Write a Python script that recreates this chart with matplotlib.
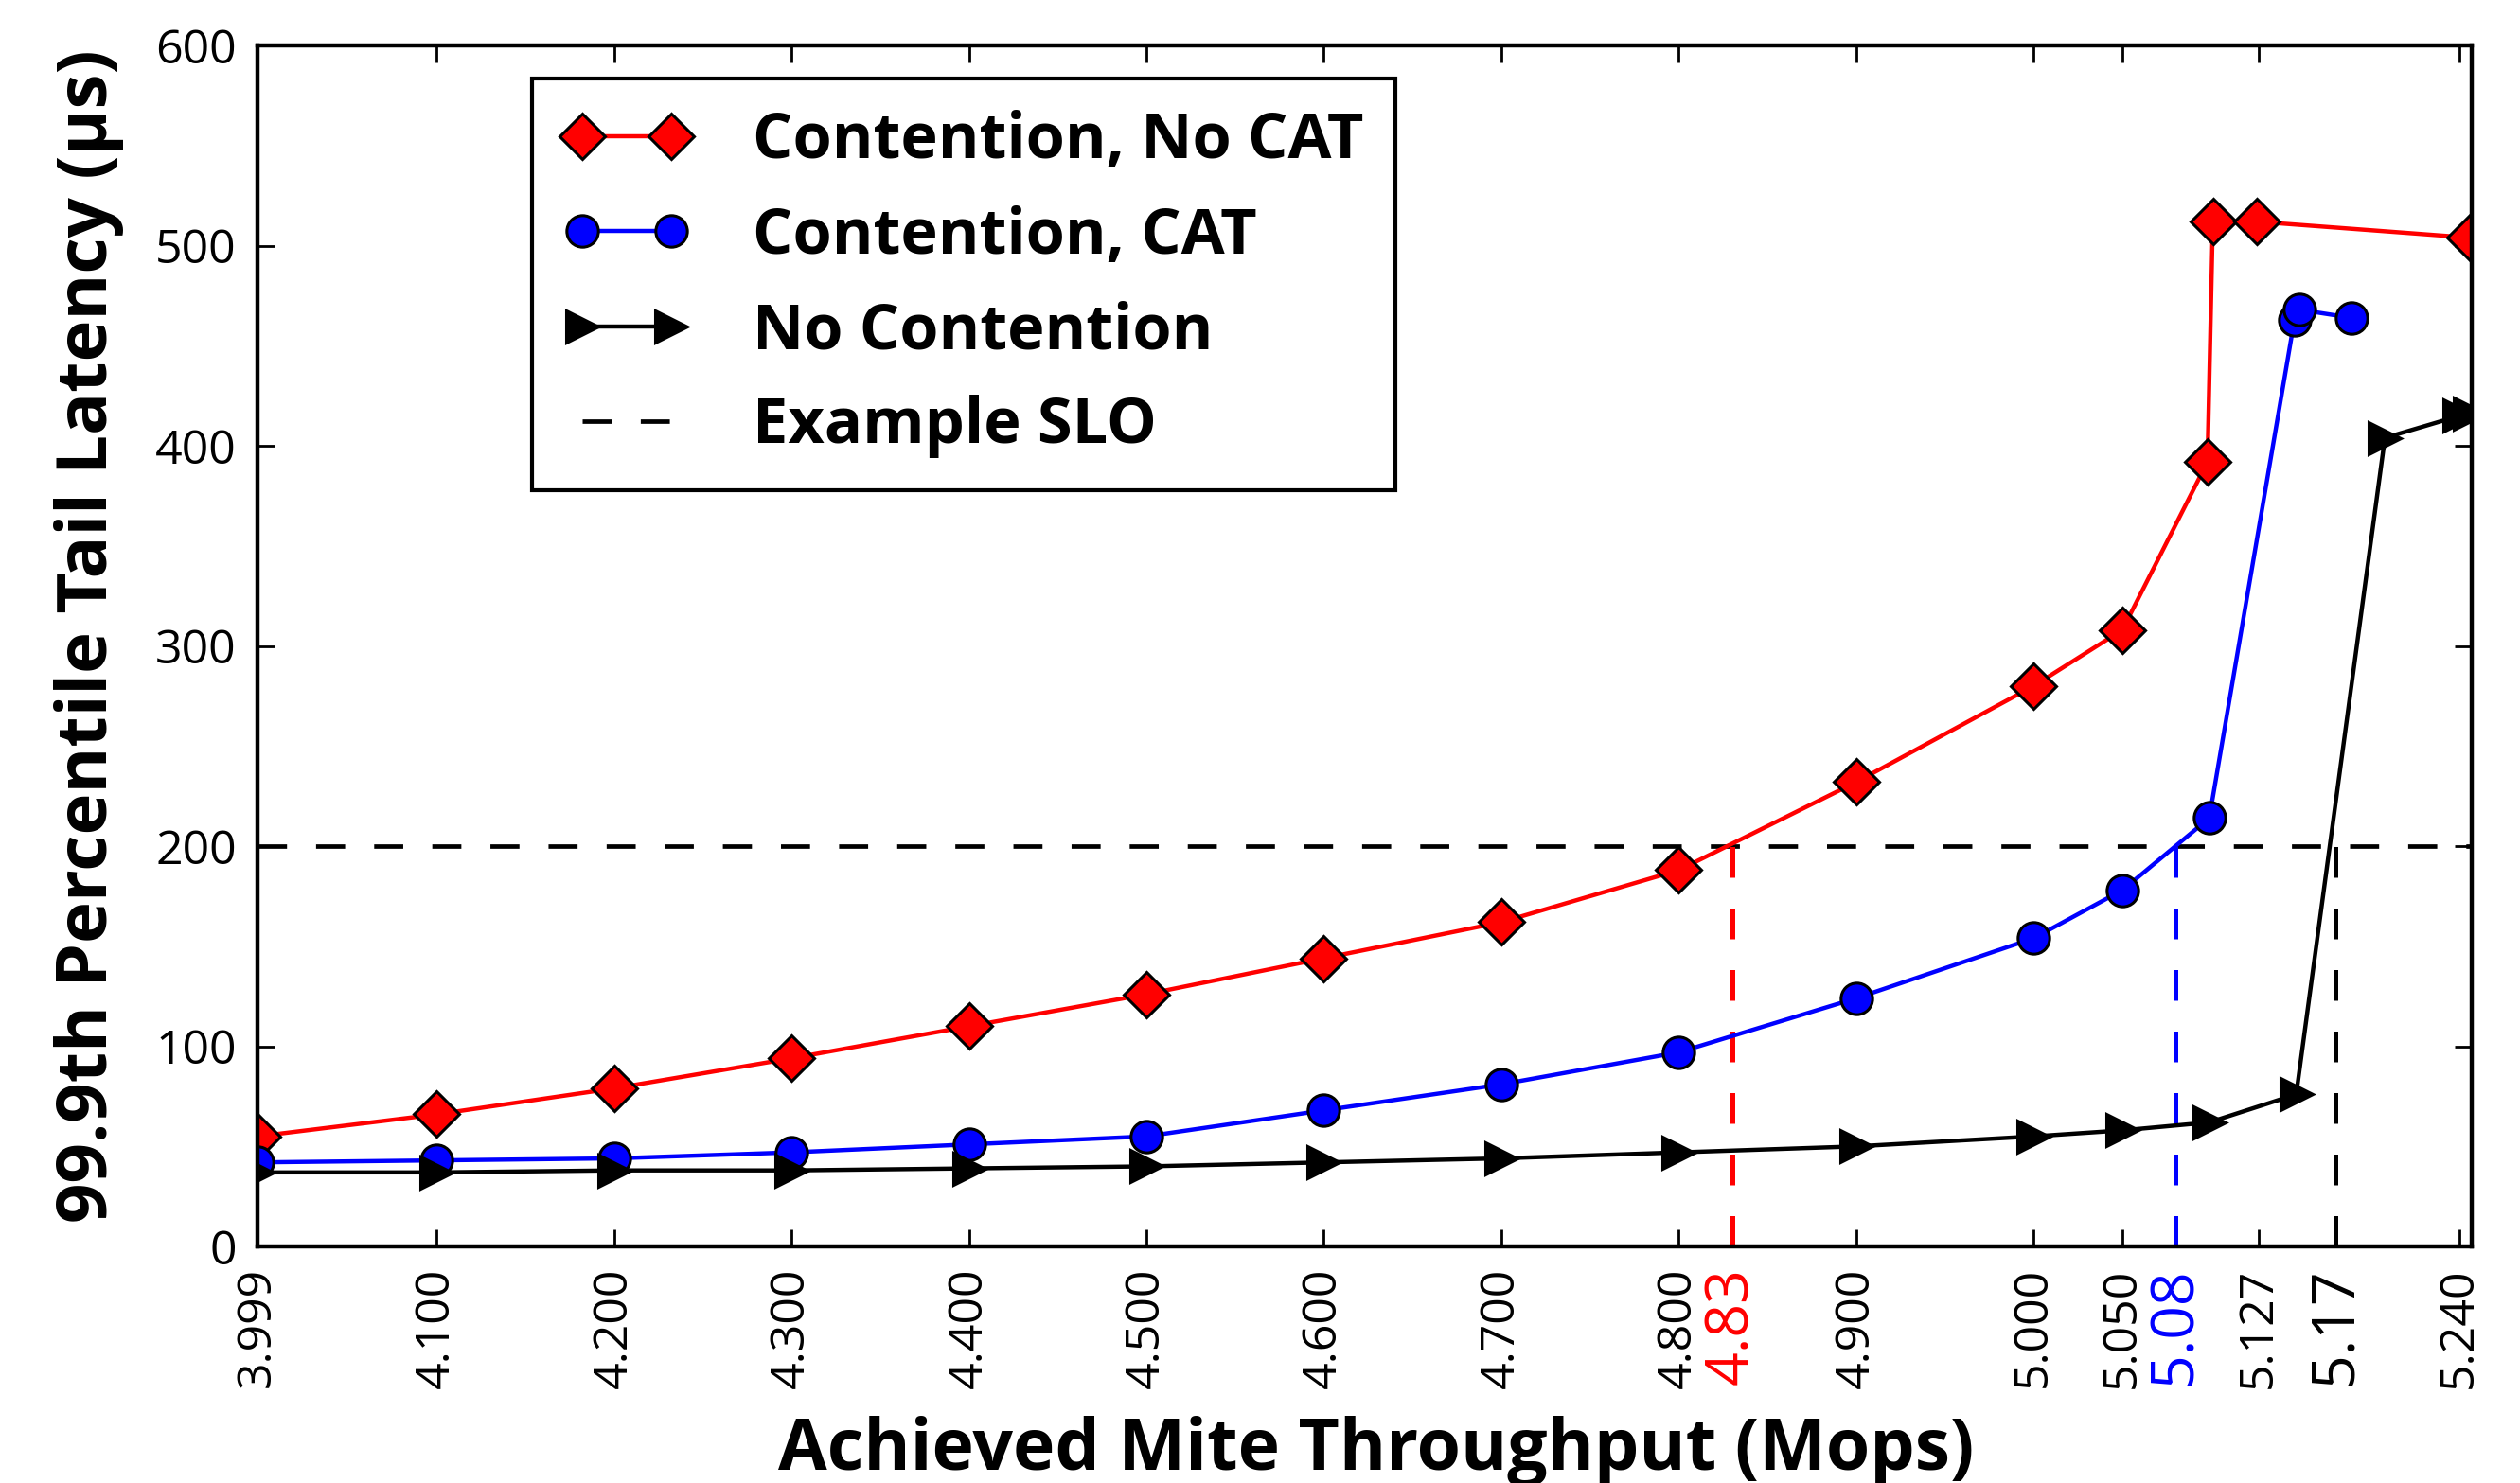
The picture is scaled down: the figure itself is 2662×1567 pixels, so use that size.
import matplotlib
matplotlib.use("Agg")
import matplotlib.pyplot as plt

# throughput (Mops) and 99.9th percentile latency (us)
x_nocat = [3.999, 4.1, 4.2, 4.3, 4.4, 4.5, 4.6, 4.7, 4.8, 4.9, 5.0, 5.05, 5.098, 5.101, 5.126, 5.246]
y_nocat = [55, 66, 79, 94, 110, 126, 144, 162, 188, 232, 280, 308, 392, 512, 512, 504]

x_cat = [3.999, 4.1, 4.2, 4.3, 4.4, 4.5, 4.6, 4.7, 4.8, 4.9, 5.0, 5.05, 5.099, 5.147, 5.150, 5.179]
y_cat = [42, 43, 44, 47, 51, 55, 68, 81, 97, 124, 154, 178, 214, 463, 468, 464]

x_nocont = [3.999, 4.1, 4.2, 4.3, 4.4, 4.5, 4.6, 4.7, 4.8, 4.9, 5.0, 5.05, 5.099, 5.148, 5.198, 5.240, 5.246]
y_nocont = [37, 37, 38, 38, 39, 40, 42, 44, 47, 50, 55, 58, 62, 76, 404, 415, 416]

slo = 200
slo_x = [4.83, 5.08, 5.17]
slo_colors = ["red", "blue", "black"]

xticks = [3.999, 4.1, 4.2, 4.3, 4.4, 4.5, 4.6, 4.7, 4.8, 4.9, 5.0, 5.05, 5.127, 5.24]
yticks = [0, 100, 200, 300, 400, 500, 600]

plt.rcParams["font.family"] = ["Open Sans", "DejaVu Sans"]

fig = plt.figure(figsize=(13.31, 7.835), dpi=200)
ax = fig.add_axes([0.1022, 0.1595, 0.8787, 0.8098])

dash = (0, (6.5, 6.5))
ax.axhline(slo, color="black", lw=1.7, ls=dash, zorder=1.5, label="Example SLO")
for xv, c in zip(slo_x, slo_colors):
    ax.plot([xv, xv], [0, slo], color=c, lw=1.8, ls=dash, zorder=1.5)

ax.plot(x_nocat, y_nocat, color="red", lw=1.6, marker="D", ms=12, mfc="red",
        mec="black", mew=1.1, label="Contention, No CAT")
ax.plot(x_cat, y_cat, color="blue", lw=1.6, marker="o", ms=12, mfc="blue",
        mec="black", mew=1.1, label="Contention, CAT")
ax.plot(x_nocont, y_nocont, color="black", lw=1.6, marker=">", ms=12.2, mfc="black",
        mec="black", mew=1.1, label="No Contention")

ax.set_xlim(3.999, 5.247)
ax.set_ylim(0, 600)

ax.set_xticks(xticks)
ax.set_xticklabels(["%.3f" % v for v in xticks], rotation=90, fontsize=18)
ax.set_xticks(slo_x, minor=True)
ax.set_xticklabels(["%.2f" % v for v in slo_x], minor=True, rotation=90, fontsize=22.5)
for lab, c in zip(ax.get_xticklabels(minor=True), slo_colors):
    lab.set_color(c)
ax.set_yticks(yticks)
ax.set_yticklabels([str(v) for v in yticks], fontsize=18)

ax.tick_params(which="major", direction="in", length=6.6, width=1.0, top=True, right=True, pad=8)
ax.tick_params(which="minor", direction="in", length=0, top=False, pad=8)
for sp in ax.spines.values():
    sp.set_linewidth(1.6)

ax.set_xlabel("Achieved Mite Throughput (Mops)", fontsize=27, fontweight="bold")
ax.xaxis.set_label_coords(0.505, -0.186)
ax.xaxis.label.set_va("baseline")
ax.set_ylabel("99.9th Percentile Tail Latency (\u00b5s)", fontsize=26.8, fontweight="bold")
ax.yaxis.set_label_coords(-0.068, 0.508)
ax.yaxis.label.set_va("baseline")

h, l = ax.get_legend_handles_labels()
order = [1, 2, 3, 0]
leg = ax.legend([h[i] for i in order], [l[i] for i in order], loc="upper left",
                bbox_to_anchor=(0.124, 0.9724), borderaxespad=0, numpoints=2,
                prop={"weight": "bold", "size": 24}, fancybox=False,
                framealpha=1, edgecolor="black", borderpad=0.5, handlelength=2.0,
                handletextpad=1.0, labelspacing=0.5)
leg.get_frame().set_linewidth(1.5)

fig.savefig("out.png", dpi=200)
